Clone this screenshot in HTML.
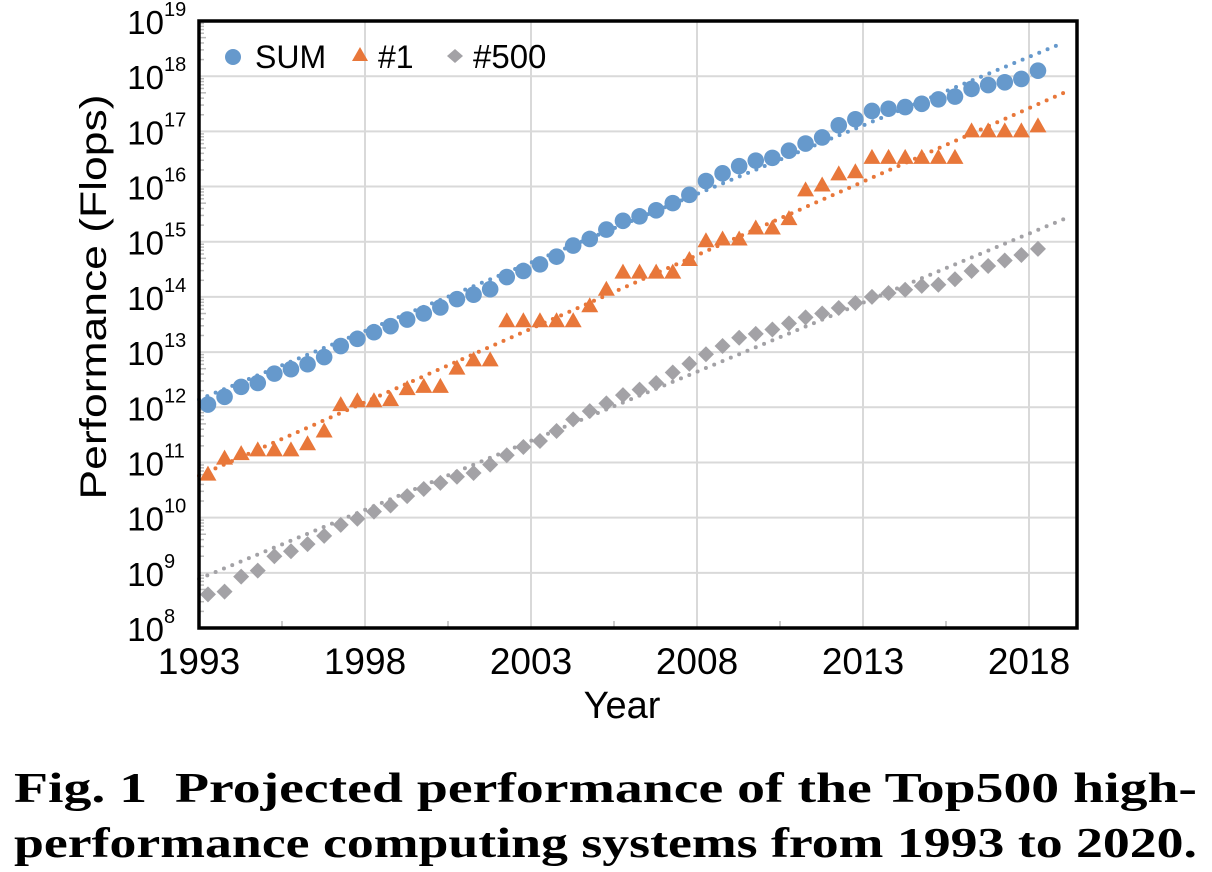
<!DOCTYPE html>
<html><head><meta charset="utf-8"><style>
html,body{margin:0;padding:0;background:#fff;width:1212px;height:872px;overflow:hidden}
svg text{font-family:"Liberation Sans",sans-serif}
</style></head><body>
<svg id="chart" width="1212" height="872" viewBox="0 0 1212 872" xmlns="http://www.w3.org/2000/svg">
<g id="grid"></g>
<g id="ticks"></g>
<g id="trends"></g>
<g id="marks"></g>
<rect x="199" y="21" width="878" height="607" fill="none" stroke="#000" stroke-width="3.5"/>
<g id="ylabels"></g>
<g id="xlabels"></g>
<text x="622" y="718" font-size="38" text-anchor="middle" fill="#000">Year</text>
<text transform="translate(106,297) rotate(-90)" font-size="37" textLength="405" lengthAdjust="spacingAndGlyphs" text-anchor="middle" fill="#000">Performance (Flops)</text>
<g>
<circle cx="233" cy="57" r="8" fill="#6699cc"/>
<text x="255" y="68" font-size="32">SUM</text>
<polygon points="360,47 368,61 352,61" fill="#e8773a"/>
<text x="378" y="68" font-size="32">#1</text>
<polygon points="455,49 463,56 455,63 447,56" fill="#a3a2a6"/>
<text x="473" y="68" font-size="33">#500</text>
</g>
<text x="14" y="802" font-size="42" font-weight="bold" textLength="1183" lengthAdjust="spacingAndGlyphs" style="font-family:'Liberation Serif',serif" xml:space="preserve">Fig. 1  Projected performance of the Top500 high-</text>
<text x="14" y="857" font-size="42" font-weight="bold" textLength="1183" lengthAdjust="spacingAndGlyphs" style="font-family:'Liberation Serif',serif">performance computing systems from 1993 to 2020.</text>
</svg>
<script>
// Data: semiannual log10(Flops), index i -> 1993.27 + 0.5*i
const sumLog = [12.05,12.19,12.37,12.44,12.61,12.69,12.78,12.91,13.11,13.24,13.36,13.47,13.59,13.70,13.81,13.96,14.04,14.14,14.36,14.47,14.59,14.73,14.93,15.05,15.22,15.38,15.46,15.57,15.70,15.85,16.10,16.24,16.37,16.47,16.52,16.65,16.78,16.89,17.11,17.22,17.37,17.41,17.44,17.50,17.58,17.63,17.77,17.84,17.89,17.95,18.10];
const top1Log = [10.78,11.07,11.15,11.22,11.22,11.22,11.33,11.56,12.04,12.11,12.11,12.13,12.33,12.37,12.37,12.70,12.85,12.85,13.56,13.56,13.56,13.56,13.56,13.83,14.13,14.44,14.44,14.44,14.44,14.67,15.01,15.04,15.04,15.24,15.24,15.41,15.93,16.02,16.22,16.26,16.52,16.52,16.52,16.52,16.52,16.52,17.00,17.00,17.00,17.00,17.09];
const top500Log = [8.61,8.66,8.93,9.04,9.30,9.39,9.52,9.67,9.87,9.98,10.11,10.22,10.39,10.52,10.63,10.74,10.81,10.96,11.13,11.28,11.39,11.57,11.78,11.93,12.07,12.22,12.32,12.44,12.63,12.79,12.96,13.11,13.26,13.33,13.41,13.52,13.63,13.70,13.80,13.89,14.00,14.07,14.13,14.20,14.22,14.32,14.47,14.56,14.66,14.76,14.87];
// trend lines: [startYear, startLog, endYear, endLog]
const sumTrend = [1993, 12.14, 2019.05, 18.61];
const top1Trend = [1993, 10.76, 2019.05, 17.70];
const top500Trend = [1993, 8.89, 2019.25, 15.46];
const xTickYears = [1993, 1998, 2003, 2008, 2013, 2018];
const yDecades = [8,9,10,11,12,13,14,15,16,17,18,19];

const NS = "http://www.w3.org/2000/svg";
const X0 = 199, PXY = 33.2, Y0 = 628, PXD = 55.18, XR = 1077;
const xs = yr => X0 + (yr - 1993) * PXY;
const ys = lg => Y0 - (lg - 8) * PXD;
const idxYear = i => 1993.27 + 0.5 * i;
function mk(tag, attrs, parent){const e=document.createElementNS(NS,tag);for(const k in attrs)e.setAttribute(k,attrs[k]);parent.appendChild(e);return e;}

const grid = document.getElementById('grid');
const ticks = document.getElementById('ticks');
yDecades.forEach(d=>{
  if(d>8 && d<19){const l=mk('line',{x1:X0,x2:XR,y1:ys(d),y2:ys(d),stroke:'#d9d9d9','stroke-width':2},grid);
  
  }
  if(d<19){for(let m=2;m<=9;m++){const yy=ys(d+Math.log10(m));
    const t=mk('line',{x1:X0,x2:X0+(m===5?7:5),y1:yy,y2:yy,stroke:'#bbb','stroke-width':1.5},ticks);
    
    }}
});
xTickYears.forEach(yr=>{
  if(yr>1993){const l=mk('line',{x1:xs(yr),x2:xs(yr),y1:21,y2:Y0,stroke:'#d9d9d9','stroke-width':2},grid);
  
  }
  if(xs(yr+2.5)<XR){const t=mk('line',{x1:xs(yr+2.5),x2:xs(yr+2.5),y1:Y0,y2:Y0-7,stroke:'#ccc','stroke-width':2},ticks);
  
  }
});
const xl=document.getElementById('xlabels');
xTickYears.forEach(yr=>{const t=mk('text',{x:xs(yr),y:674,'font-size':37,'text-anchor':'middle'},xl);t.textContent=yr;
  
  });
const yl=document.getElementById('ylabels');
yDecades.forEach(d=>{const t=mk('text',{x:164,y:ys(d)+13,'font-size':33,'text-anchor':'end'},yl);t.textContent='10';
  
  
  const s=mk('text',{x:164,y:ys(d)-5,'font-size':20},yl);s.textContent=d;
  
  });

const trends=document.getElementById('trends');
[[sumTrend,'#6699cc','sum-trend'],[top1Trend,'#e8773a','top1-trend'],[top500Trend,'#a3a2a6','top500-trend']].forEach(([tr,c,n])=>{
  const l=mk('line',{x1:xs(tr[0]),y1:ys(tr[1]),x2:xs(tr[2]),y2:ys(tr[3]),stroke:c,'stroke-width':4,'stroke-linecap':'round','stroke-dasharray':'0 9'},trends);
  
  
});
const marks=document.getElementById('marks');
top500Log.forEach((v,i)=>{const x=xs(idxYear(i)),y=ys(v);
  const p=mk('polygon',{points:`${x},${y-8} ${x+8},${y} ${x},${y+8} ${x-8},${y}`,fill:'#a3a2a6'},marks);
  
  });
top1Log.forEach((v,i)=>{const x=xs(idxYear(i)),y=ys(v);
  const p=mk('polygon',{points:`${x},${y-9} ${x+8.5},${y+6} ${x-8.5},${y+6}`,fill:'#e8773a'},marks);
  
  });
sumLog.forEach((v,i)=>{
  const c=mk('circle',{cx:xs(idxYear(i)),cy:ys(v),r:8.3,fill:'#6699cc'},marks);
  
  });
</script>
</body></html>
